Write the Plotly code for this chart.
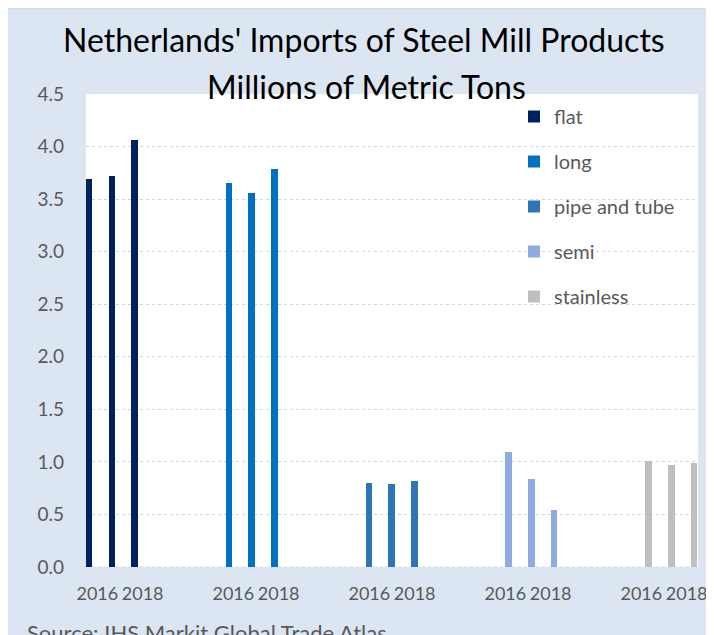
import plotly.graph_objects as go

# ---- data ----
years = ["2016", "2017", "2018"]
products = ["flat", "long", "pipe and tube", "semi", "stainless"]
flat = [3.69, 3.72, 4.06]
long_ = [3.65, 3.56, 3.79]
pipe = [0.80, 0.785, 0.82]
semi = [1.09, 0.84, 0.54]
stainless = [1.01, 0.975, 0.99]
series_values = [flat, long_, pipe, semi, stainless]
colors = ["#002060", "#0070C0", "#2E75B6", "#8FAADC", "#BFBFBF"]
shown_tick_years = ["2016", "2018"]
title_lines = ["Netherlands' Imports of Steel Mill Products", "Millions of Metric Tons"]
source_text = "Source: IHS Markit Global Trade Atlas"

# ---- layout geometry (page has an 8px body margin) ----
OFF = 8
W, H = 714 - OFF, 635 - OFF
L, R, T, B = 86 - OFF, 16, 94 - OFF, 68
PW, PH = W - L - R, H - T - B
FONT = "Lato"
GREY = "#595959"

def px_x(page_px):
    return (page_px - OFF - L) / PW

def px_y(page_py):
    return (H - B - (page_py - OFF)) / PH

slots_per_group = 6  # 3 years + 3 empty slots
bar_w = 0.29
fig = go.Figure()
for i, (name, vals) in enumerate(zip(products, series_values)):
    xs = [i * slots_per_group + j for j in range(len(years))]
    center = (i - 2) * 0.17 - 0.02
    fig.add_trace(go.Bar(
        x=xs, y=vals, name=name, marker_color=colors[i],
        marker_line_width=0,
        width=bar_w, offset=center - bar_w / 2,
        legendgroup=name,
    ))

tickvals, ticktext = [], []
for i in range(len(products)):
    for j, yr in enumerate(years):
        if yr in shown_tick_years:
            tickvals.append(i * slots_per_group + j)
            ticktext.append(yr)

n_slots = (len(products) - 1) * slots_per_group + len(years)

fig.update_layout(
    width=W, height=H,
    margin=dict(l=L, r=R, t=T, b=B, autoexpand=False),
    paper_bgcolor="#DCE6F2",
    plot_bgcolor="#FFFFFF",
    font=dict(family=FONT, color=GREY),
    showlegend=True,
    legend=dict(
        x=px_x(514), y=px_y(97), xanchor="left", yanchor="top",
        bgcolor="rgba(0,0,0,0)",
        font=dict(family=FONT, size=20, color=GREY),
        traceorder="grouped", tracegroupgap=16,
    ),
    xaxis=dict(
        range=[-0.5, n_slots - 0.5], automargin=False,
        tickmode="array", tickvals=tickvals, ticktext=ticktext,
        showgrid=False, zeroline=False, showline=False,
        ticks="", tickfont=dict(family=FONT, size=18, color=GREY),
        ticklabelstandoff=14,
    ),
    yaxis=dict(
        range=[0, 4.5], dtick=0.5, tickformat=".1f", automargin=False,
        showgrid=True, gridcolor="#D4D4D4", griddash="dot", gridwidth=1,
        zeroline=False, showline=False, ticks="",
        tickfont=dict(family=FONT, size=19, color=GREY),
        ticklabelstandoff=21,
    ),
    bargap=0,
    shapes=[
        dict(type="line", xref="paper", yref="paper", x0=px_x(OFF), x1=px_x(W + OFF + 5),
             y0=px_y(OFF + 0.5), y1=px_y(OFF + 0.5), line=dict(color="#D9D9D9", width=1.5), layer="below"),
        dict(type="line", xref="paper", yref="paper", x0=px_x(OFF - 1), x1=px_x(OFF - 1),
             y0=px_y(OFF), y1=px_y(H + OFF + 5), line=dict(color="#D0D0D0", width=1.5), layer="below"),
        dict(type="line", xref="paper", yref="y", x0=0, x1=1, y0=0, y1=0,
             line=dict(color="#D4D4D4", width=1, dash="dot"), layer="below"),
    ],
    annotations=[
        dict(text=title_lines[0], xref="paper", yref="paper",
             x=px_x(363.5), y=px_y(39), xanchor="center", yanchor="middle", showarrow=False,
             font=dict(family=FONT, size=32, color="#000000")),
        dict(text=title_lines[1], xref="paper", yref="paper",
             x=px_x(366), y=px_y(86), xanchor="center", yanchor="middle", showarrow=False,
             font=dict(family=FONT, size=32, color="#000000")),
        dict(text=source_text, xref="paper", yref="paper",
             x=px_x(25), y=px_y(617), xanchor="left", yanchor="top", showarrow=False,
             font=dict(family=FONT, size=22, color=GREY)),
    ],
)

fig.write_html("out.html")
